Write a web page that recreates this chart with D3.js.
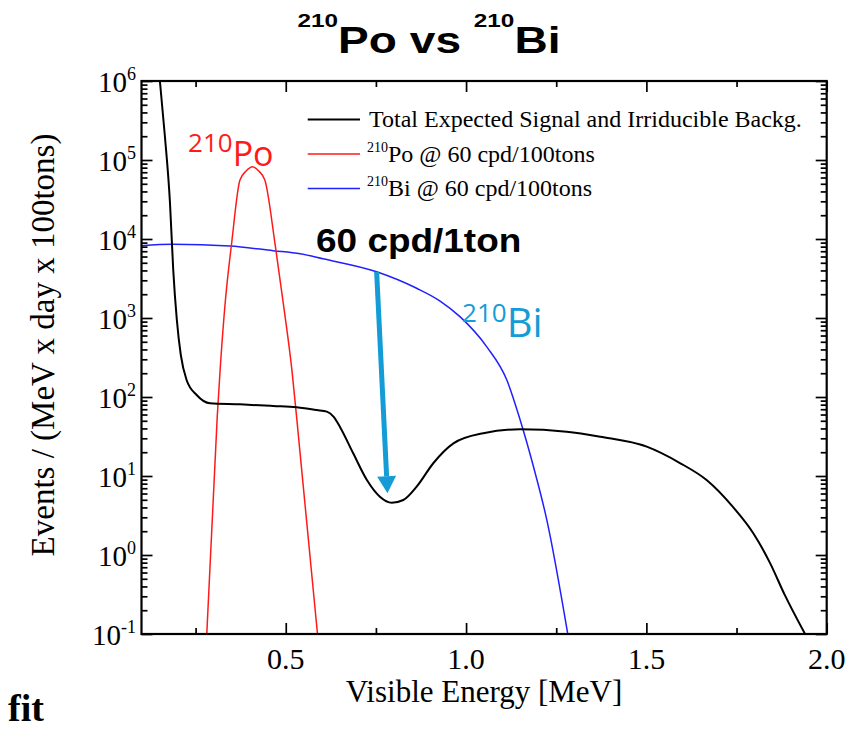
<!DOCTYPE html>
<html><head><meta charset="utf-8">
<script src="https://cdn.jsdelivr.net/npm/d3@7"></script>
<style>body{margin:0;background:#fff} svg{display:block}</style>
</head><body>
<script>
// ---- data ----
const totalEnergy = [0.151,0.165,0.179,0.188,0.198,0.209,0.225,0.253,0.290,0.373,0.465,0.530,0.586,0.614,0.633,0.650,0.687,0.725,0.761,0.794,0.826,0.863,0.909,0.965,1.048,1.150,1.279,1.372,1.501,1.593,1.667,1.740,1.796,1.843,1.884,1.940];
const totalEvents = [1e6,197000,28600,4060,944,340,164,106,83.2,80.7,76.9,74.1,68.4,65.2,56.0,42.1,19.4,8.89,5.47,4.59,4.97,7.33,14.5,25.9,34.8,39.0,36.4,31.4,23.5,14.6,8.89,4.06,1.90,0.79,0.31,0.1];

const poEnergy = [0.281,0.310,0.318,0.332,0.350,0.373,0.390,0.408,0.425,0.442,0.470,0.493,0.517,0.530,0.588];
const poEvents = [0.1,56.4,220,1550,8890,55800,72400,82200,72400,55800,8890,1550,220,56.4,0.1];

const biEnergy = [0.10,0.187,0.345,0.465,0.540,0.603,0.752,0.863,0.928,0.983,1.057,1.113,1.150,1.187,1.224,1.282];
const biEvents = [8220,8570,8150,7110,6500,5620,3850,2380,1640,1040,434,164,51.2,13.1,2.77,0.1];

const xMajorTicks = [0.5,1.0,1.5,2.0];
const xMinorTicks = [0.25,0.75,1.25,1.75];
const xTickLabels = ["0.5","1.0","1.5","2.0"];
const yExponents = [-1,0,1,2,3,4,5,6];
const minorMultipliers = [2,3,4,5,6,7,8,9];

const legendLabels = [
  {sup:"", text:"Total Expected Signal and Irriducible Backg."},
  {sup:"210", text:"Po @ 60 cpd/100tons"},
  {sup:"210", text:"Bi @ 60 cpd/100tons"}
];
const seriesColors = ["#000000","#ff1a1a","#2020ff"];
const accent = "#149cd6";

// annotation anchors (data coordinates)
const arrowStart = [0.752, 3850];
const arrowEnd = [0.782, 6.04];
const rateLabelAt = [0.584, 6900];
const poLabelAt = [0.229, 84000];
const biLabelAt = [0.989, 580];

// ---- drawing ----
const W = 860, H = 731;
const L = 141.5, R = 826.7, T = 81, B = 634;
const svg = d3.select("body").append("svg").attr("width", W).attr("height", H);
svg.append("rect").attr("width", W).attr("height", H).attr("fill", "#fff");

const x = d3.scaleLinear().domain([0.1, 2.0]).range([L, R]);
const y = d3.scaleLog().domain([0.1, 1e6]).range([B, T]);

const serif = "'Liberation Serif','Times New Roman',serif";
const sans = "'Liberation Sans',Arial,sans-serif";
const comic = "'Open Sans','Noto Sans',sans-serif";

svg.append("defs").append("clipPath").attr("id","clip")
  .append("rect").attr("x", L).attr("y", T).attr("width", R - L).attr("height", B - T);

// ticks
const yMajor = yExponents.map(e => Math.pow(10, e));
const yMinor = [];
yExponents.slice(0, -1).forEach(e => minorMultipliers.forEach(m => yMinor.push(m * Math.pow(10, e))));

function tickAxis(gen, tr) {
  const g = svg.append("g").attr("transform", tr).call(gen);
  g.select(".domain").remove();
  g.selectAll(".tick text").remove();
  g.selectAll(".tick line").attr("stroke", "#000").attr("stroke-width", 1.7);
  return g;
}
tickAxis(d3.axisBottom(x).tickValues(xMajorTicks).tickSize(-11), `translate(0,${B})`);
tickAxis(d3.axisBottom(x).tickValues(xMinorTicks).tickSize(-6), `translate(0,${B})`);
tickAxis(d3.axisTop(x).tickValues(xMajorTicks).tickSize(-11), `translate(0,${T})`);
tickAxis(d3.axisTop(x).tickValues(xMinorTicks).tickSize(-6), `translate(0,${T})`);
tickAxis(d3.axisLeft(y).tickValues(yMajor).tickSize(-11), `translate(${L},0)`);
tickAxis(d3.axisLeft(y).tickValues(yMinor).tickSize(-6), `translate(${L},0)`);
tickAxis(d3.axisRight(y).tickValues(yMajor).tickSize(-11), `translate(${R},0)`);
tickAxis(d3.axisRight(y).tickValues(yMinor).tickSize(-6), `translate(${R},0)`);

// curves
const line = d3.line().x(d => x(d[0])).y(d => y(d[1])).curve(d3.curveMonotoneX);
const plot = svg.append("g").attr("clip-path", "url(#clip)");
const series = [
  {E: biEnergy, V: biEvents, c: seriesColors[2], w: 1.5},
  {E: poEnergy, V: poEvents, c: seriesColors[1], w: 1.5},
  {E: totalEnergy, V: totalEvents, c: seriesColors[0], w: 2}
];
series.forEach(s => {
  plot.append("path").datum(s.E.map((e, i) => [e, s.V[i]]))
    .attr("d", line).attr("fill", "none").attr("stroke", s.c).attr("stroke-width", s.w);
});

// frame
svg.append("rect").attr("x", L).attr("y", T).attr("width", R - L).attr("height", B - T)
  .attr("fill", "none").attr("stroke", "#000").attr("stroke-width", 2.2);

// x tick labels
svg.append("g").selectAll("text").data(xMajorTicks).join("text")
  .attr("x", d => x(d)).attr("y", 669).attr("text-anchor", "middle")
  .style("font-family", serif).attr("font-size", 30).text((d, i) => xTickLabels[i]);

// y tick labels
const yl = svg.append("g").selectAll("text").data(yExponents).join("text")
  .attr("x", 136).attr("y", d => y(Math.pow(10, d)) + 11).attr("text-anchor", "end")
  .style("font-family", serif).attr("font-size", 29);
yl.append("tspan").text("10");
yl.append("tspan").attr("font-size", 18).attr("dy", -12).text(d => String(d));

// axis titles
svg.append("text").attr("x", (L + R) / 2).attr("y", 702).attr("text-anchor", "middle")
  .style("font-family", serif).attr("font-size", 31).text("Visible Energy [MeV]");
svg.append("text").attr("transform", "translate(54,345) rotate(-90)").attr("text-anchor", "middle")
  .style("font-family", serif).attr("font-size", 33).text("Events / (MeV x day x 100tons)");

// title
const title = svg.append("text").attr("transform", "translate(429,53) scale(1.28,1)")
  .attr("text-anchor", "middle").style("font-family", sans).attr("font-weight", "bold").attr("font-size", 36);
title.append("tspan").attr("font-size", 19).attr("dy", -26).text("210");
title.append("tspan").attr("dy", 26).text("Po vs ");
title.append("tspan").attr("font-size", 19).attr("dy", -26).text("210");
title.append("tspan").attr("dy", 26).text("Bi");

// legend
const lg = svg.append("g");
legendLabels.forEach((d, i) => {
  const ly = 119.5 + i * 34.5;
  lg.append("line").attr("x1", 307.7).attr("x2", 360).attr("y1", ly).attr("y2", ly)
    .attr("stroke", seriesColors[i]).attr("stroke-width", i === 0 ? 2 : 1.5);
  const t = lg.append("text").attr("x", d.sup ? 367 : 369).attr("y", ly + 7.5)
    .style("font-family", serif).attr("font-size", 24);
  if (d.sup) {
    t.append("tspan").attr("font-size", 14).attr("dy", -10).text(d.sup);
    t.append("tspan").attr("dy", 10).text(d.text);
  } else t.text(d.text);
});

// annotations
svg.append("text").attr("transform", `translate(${x(rateLabelAt[0])},${y(rateLabelAt[1])}) scale(1.12,1)`)
  .style("font-family", sans).attr("font-weight", "bold").attr("font-size", 33).attr("fill", "#000")
  .text("60 cpd/1ton");

const poT = svg.append("text").attr("x", x(poLabelAt[0])).attr("y", y(poLabelAt[1]))
  .style("font-family", comic).attr("fill", "#ff1a1a").attr("font-size", 34);
poT.append("tspan").attr("font-size", 26).attr("dy", -14).text("210");
poT.append("tspan").attr("dy", 14).text("Po");

const biT = svg.append("text").attr("x", x(biLabelAt[0])).attr("y", y(biLabelAt[1]))
  .style("font-family", comic).attr("fill", accent).attr("font-size", 40);
biT.append("tspan").attr("font-size", 26).attr("dy", -15).text("210");
biT.append("tspan").attr("dy", 15).text("Bi");

// arrow
const ax0 = x(arrowStart[0]), ay0 = y(arrowStart[1]);
const ax1 = x(arrowEnd[0]), ay1 = y(arrowEnd[1]);
const len = Math.hypot(ax1 - ax0, ay1 - ay0);
const ux = (ax1 - ax0) / len, uy = (ay1 - ay0) / len;
const headL = 17, headW = 9.5;
const bx = ax1 - ux * headL, by = ay1 - uy * headL;
svg.append("line").attr("x1", ax0).attr("y1", ay0).attr("x2", bx).attr("y2", by)
  .attr("stroke", accent).attr("stroke-width", 5);
svg.append("polygon").attr("points", [
  [ax1, ay1], [bx - uy * headW, by + ux * headW], [bx + uy * headW, by - ux * headW]
].map(p => p.join(",")).join(" ")).attr("fill", accent);

// footer
svg.append("text").attr("x", 8).attr("y", 721).style("font-family", serif)
  .attr("font-weight", "bold").attr("font-size", 38).text("fit");
</script>
</body></html>
